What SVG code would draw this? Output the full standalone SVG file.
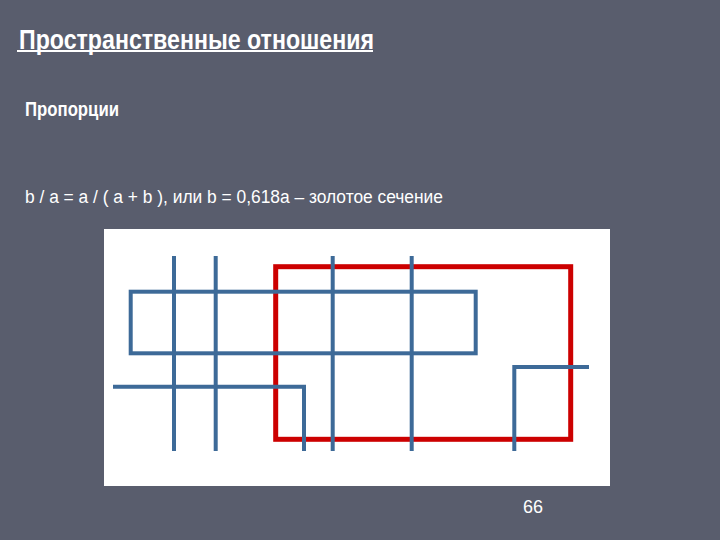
<svg xmlns="http://www.w3.org/2000/svg" width="720" height="540" viewBox="0 0 720 540">
<style>
.t{fill:#ffffff;font-family:"Liberation Sans",Arial,sans-serif}
.b{fill:none;stroke:#3d6a98;stroke-width:4;stroke-linecap:butt}
.r{fill:none;stroke:#cc0000;stroke-width:5}
</style>
<rect width="720" height="540" fill="#595d6d"/>
<g id="title">
<text class="t" x="19" y="49" font-size="28" font-weight="bold" textLength="355" lengthAdjust="spacingAndGlyphs">Пространственные отношения</text>
<rect x="17" y="50" width="356" height="2" fill="#ffffff"/>
</g>
<text id="subtitle" class="t" x="25" y="116" font-size="20" font-weight="bold" textLength="94" lengthAdjust="spacingAndGlyphs">Пропорции</text>
<text id="formula" class="t" x="25" y="203" font-size="18" textLength="418" lengthAdjust="spacingAndGlyphs">b / a = a / ( a + b ), или b = 0,618a – золотое сечение</text>
<rect id="panel" x="104" y="229" width="506" height="257" fill="#ffffff"/>
<g id="figure">
<rect id="golden" class="r" x="275.7" y="266.7" width="295" height="172.6"/>
<rect id="blue-rect" class="b" x="130.7" y="291.7" width="345" height="61.6"/>
<line class="b" x1="174" y1="256" x2="174" y2="451"/>
<line class="b" x1="215.7" y1="256" x2="215.7" y2="451"/>
<line class="b" x1="332.7" y1="256" x2="332.7" y2="451"/>
<line class="b" x1="411.7" y1="256" x2="411.7" y2="451"/>
<polyline class="b" points="113,386.7 304,386.7 304,451"/>
<polyline class="b" points="514.3,451 514.3,367 589,367"/>
</g>
<text id="page" class="t" x="523" y="512.5" font-size="18">66</text>
</svg>
